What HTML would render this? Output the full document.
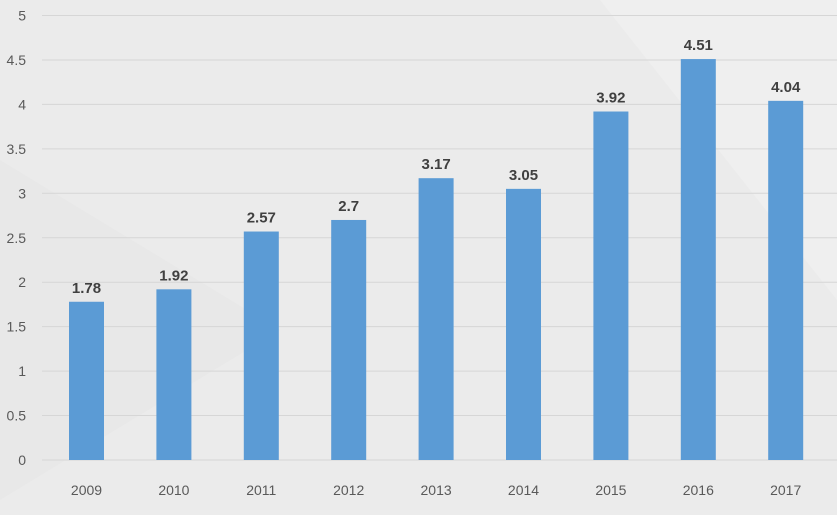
<!DOCTYPE html>
<html><head><meta charset="utf-8"><style>
body{margin:0;width:837px;height:510px;overflow:hidden;background:#ececec;font-family:"Liberation Sans",sans-serif}
</style></head><body>
<svg id="chart" width="837" height="510" xmlns="http://www.w3.org/2000/svg">
<rect width="837" height="510" fill="#ebebeb"/>
<polygon points="600,0 837,0 837,300" fill="#efefef"/>
<polygon points="0,160 280,330 0,500" fill="#e8e8e8"/>
<g id="grid"></g><g id="bars"></g><g id="labels"></g>
</svg>
<script>
const categories=["2009","2010","2011","2012","2013","2014","2015","2016","2017"];
const values=[1.78,1.92,2.57,2.7,3.17,3.05,3.92,4.51,4.04];
const valueLabels=["1.78","1.92","2.57","2.7","3.17","3.05","3.92","4.51","4.04"];
const yTicks=[0,0.5,1,1.5,2,2.5,3,3.5,4,4.5,5];
const ns="http://www.w3.org/2000/svg";
const y0=460,pxPerUnit=88.9;
function yScale(v){return y0-v*pxPerUnit;}
function xScale(i){return 86.5+i*87.4;}
const grid=document.getElementById('grid'),bars=document.getElementById('bars'),labels=document.getElementById('labels');
function mk(tag,attrs,text){const e=document.createElementNS(ns,tag);for(const k in attrs)e.setAttribute(k,attrs[k]);if(text!==undefined)e.textContent=text;return e;}
yTicks.forEach(t=>{
 const y=yScale(t);
 const l=mk('line',{x1:42,x2:837,y1:y,y2:y,stroke:'#d6d6d6','stroke-width':1});
 
 
 grid.appendChild(l);
 const tx=mk('text',{x:26,y:y+5,'text-anchor':'end','font-size':14,fill:'#595959'},String(t));
 
 
 labels.appendChild(tx);
});
categories.forEach((c,i)=>{
 const cx=xScale(i),w=35,y=yScale(values[i]);
 const r=mk('rect',{x:cx-w/2,y:y,width:w,height:y0-y,fill:'#5b9bd5'});
 
 
 bars.appendChild(r);
 const v=mk('text',{x:cx,y:y-9,'text-anchor':'middle','font-size':15,'font-weight':'bold',fill:'#404040'},valueLabels[i]);
 
 
 labels.appendChild(v);
 const xl=mk('text',{x:cx,y:495,'text-anchor':'middle','font-size':14,fill:'#595959'},c);
 
 
 labels.appendChild(xl);
});
</script>
</body></html>
